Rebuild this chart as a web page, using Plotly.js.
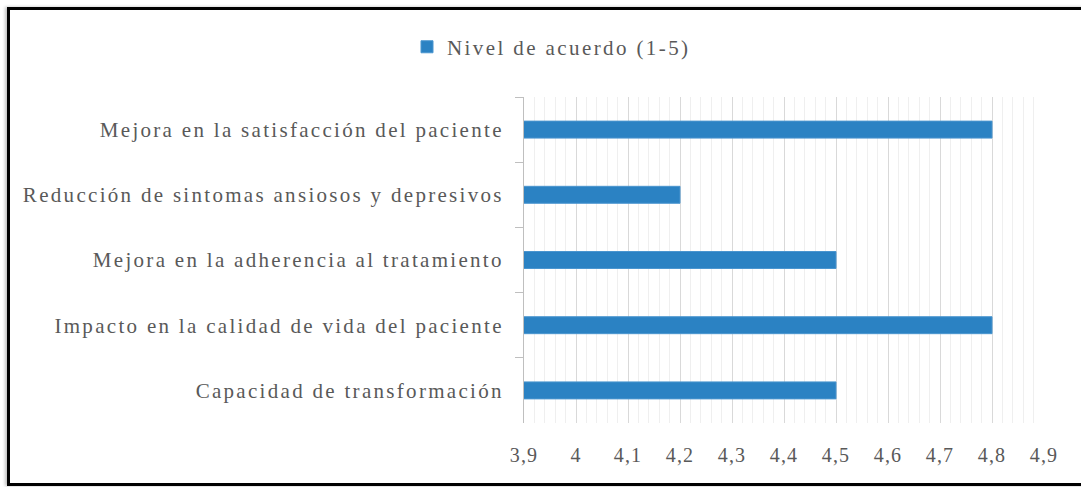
<!DOCTYPE html>
<html>
<head>
<meta charset="utf-8">
<script src="https://cdn.plot.ly/plotly-3.0.1.min.js"></script>
<style>
  html, body { margin: 0; padding: 0; background: #fff; overflow: hidden; }
  #chart { width: 1081px; height: 487px; position: absolute; left: 0; top: 0; }
  #frame { position: absolute; left: 7px; top: 7px; width: 1200px; height: 473px;
           border-left: 3px solid #000; border-top: 3px solid #000; border-bottom: 3px solid #000;
           box-shadow: -2px 0 3px rgba(0,0,0,0.25); pointer-events: none; }
  .ytick text { letter-spacing: 2.3px; }
  .xtick text { letter-spacing: 1.2px; }
  .legendtext { letter-spacing: 2.4px; }
</style>
</head>
<body>
<div id="chart"></div>
<div id="frame"></div>
<script>
const categories = [
  "Mejora en la satisfacción del paciente",
  "Reducción de sintomas ansiosos y depresivos",
  "Mejora en la adherencia al tratamiento",
  "Impacto en la calidad de vida del paciente",
  "Capacidad de transformación"
];
const values = [4.8, 4.2, 4.5, 4.8, 4.5];
const seriesName = "Nivel de acuerdo (1-5)";
const xTickVals = [3.9, 4.0, 4.1, 4.2, 4.3, 4.4, 4.5, 4.6, 4.7, 4.8, 4.9];

const fam = "Liberation Serif";
const font = { family: fam, size: 21, color: "#595959" };

const trace = {
  type: "bar",
  orientation: "h",
  y: categories,
  x: values,
  name: seriesName,
  marker: { color: "#2b82c3", line: { color: "#4a95cf", width: 1 } },
  showlegend: true,
  hoverinfo: "x+y"
};

const layout = {
  width: 1081,
  height: 487,
  margin: { l: 524, r: 37, t: 97, b: 64, autoexpand: false },
  paper_bgcolor: "#ffffff",
  plot_bgcolor: "#ffffff",
  separators: ", ",
  font: font,
  bargap: 0.74,
  showlegend: true,
  legend: {
    orientation: "h",
    x: -0.225, xanchor: "left",
    y: 1.153, yanchor: "middle",
    font: { family: fam, size: 21, color: "#595959" },
    bgcolor: "rgba(0,0,0,0)"
  },
  xaxis: {
    range: [3.9, 4.9],
    tickvals: xTickVals,
    ticktext: xTickVals.map(v => (Math.round(v * 10) / 10).toString().replace(".", ",")),
    showgrid: true,
    gridcolor: "#d9d9d9",
    gridwidth: 1,
    minor: { dtick: 0.02, tick0: 3.9, showgrid: true, gridcolor: "#efefef", gridwidth: 1 },
    zeroline: false,
    showline: false,
    ticks: "",
    ticklabelstandoff: 18,
    tickfont: { family: fam, size: 20, color: "#595959" },
    fixedrange: true
  },
  yaxis: {
    autorange: "reversed",
    type: "category",
    showgrid: false,
    zeroline: false,
    showline: true,
    linecolor: "#bfbfbf",
    linewidth: 1,
    ticks: "outside",
    tickson: "boundaries",
    ticklen: 8,
    tickcolor: "#bfbfbf",
    ticklabelstandoff: 15,
    tickfont: { family: fam, size: 21, color: "#595959" },
    fixedrange: true
  }
};

Plotly.newPlot("chart", [trace], layout, { displayModeBar: false, staticPlot: true });
</script>
</body>
</html>
